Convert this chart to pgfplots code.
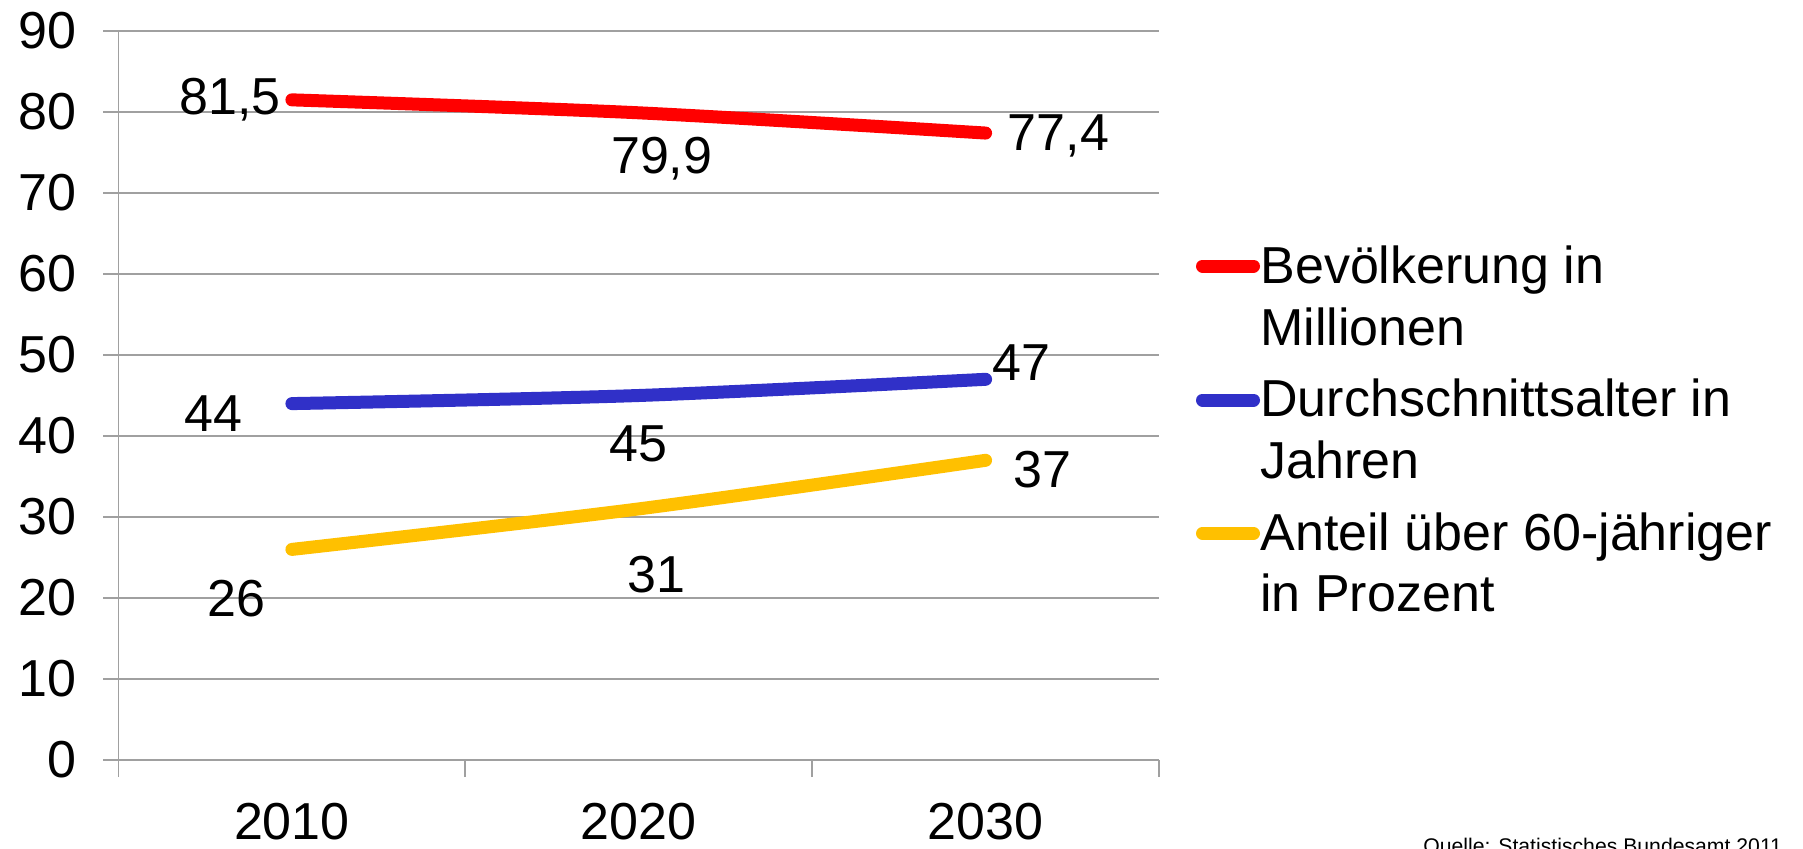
\documentclass[border=0pt]{standalone}
\usepackage{pgfplots}
\pgfplotsset{compat=1.18}
\usetikzlibrary{calc}
\usepackage{fontspec}
\setmainfont{Liberation Sans}
\definecolor{gridgray}{RGB}{160,160,160}
\definecolor{lred}{RGB}{255,0,0}
\definecolor{lblue}{RGB}{48,48,200}
\definecolor{lyellow}{RGB}{255,192,0}
\begin{document}
\begin{tikzpicture}[font=\fontsize{26}{29.5}\selectfont]
\begin{axis}[
  at={(59.25pt,44pt)}, anchor=south west,
  scale only axis, width=520.25pt, height=364.5pt,
  xmin=-0.5, xmax=2.5, ymin=0, ymax=90,
  axis x line*=bottom, axis y line*=left,
  axis line style={gridgray, line width=0.9pt, -},
  xtick={0,1,2}, xticklabels={2010,2020,2030},
  minor xtick={-0.5,0.5,1.5,2.5},
  major x tick style={draw=none},
  ytick={0,10,...,90},
  tick align=outside,
  major tick length=7.5pt, minor tick length=8.5pt,
  tick style={gridgray, line width=0.9pt},
  ymajorgrids, grid style={gridgray, line width=0.9pt},
  /pgf/number format/assume math mode=true,
  yticklabel style={anchor=east, inner sep=0pt, xshift=-13.3pt},
  xticklabel style={anchor=north, inner sep=0pt, yshift=-14pt},
  clip=false,
]
\addplot[lred, line width=6.5pt, line cap=round, smooth, tension=0.5] coordinates {(0,81.5) (1,79.9) (2,77.4)};
\addplot[lblue, line width=6.5pt, line cap=round, smooth, tension=0.5] coordinates {(0,44) (1,45) (2,47)};
\addplot[lyellow, line width=6.5pt, line cap=round, smooth, tension=0.5] coordinates {(0,26) (1,31) (2,37)};

\node at ($(axis cs:0,81.5)+(-31pt,0pt)$) {81,5};
\node at ($(axis cs:1,79.9)+(11.5pt,-23pt)$) {79,9};
\node at ($(axis cs:2,77.4)+(36.5pt,-1.5pt)$) {77,4};
\node at ($(axis cs:0,44)+(-39pt,-5pt)$) {44};
\node at ($(axis cs:1,45)+(0pt,-24pt)$) {45};
\node at ($(axis cs:2,47)+(18pt,8.5pt)$) {47};
\node at ($(axis cs:0,26)+(-27.5pt,-24.5pt)$) {26};
\node at ($(axis cs:1,31)+(9pt,-33pt)$) {31};
\node at ($(axis cs:2,37)+(28.5pt,-4.5pt)$) {37};
\end{axis}
% legend
\draw[lred, line width=6.5pt, line cap=round] (601.25pt,291pt) -- (626.75pt,291pt);
\draw[lblue, line width=6.5pt, line cap=round] (601.25pt,224pt) -- (626.75pt,224pt);
\draw[lyellow, line width=6.5pt, line cap=round] (601.25pt,157.35pt) -- (626.75pt,157.35pt);
\node[anchor=base west, inner sep=0pt] at (630pt,282.35pt) {Bevölkerung in};
\node[anchor=base west, inner sep=0pt] at (630pt,251.5pt) {Millionen};
\node[anchor=base west, inner sep=0pt] at (630pt,215.65pt) {Durchschnittsalter in};
\node[anchor=base west, inner sep=0pt] at (630pt,184.85pt) {Jahren};
\node[anchor=base west, inner sep=0pt] at (630pt,149pt) {Anteil über 60-jähriger};
\node[anchor=base west, inner sep=0pt] at (630pt,118.15pt) {in Prozent};
\node[anchor=north west, inner sep=0pt, font=\fontsize{10.6}{12}\selectfont] at (711.5pt,5pt) {Quelle: Statistisches Bundesamt 2011};
\pgfresetboundingbox
\useasboundingbox (0,0) rectangle (901.5pt,424pt);
\end{tikzpicture}
\end{document}
